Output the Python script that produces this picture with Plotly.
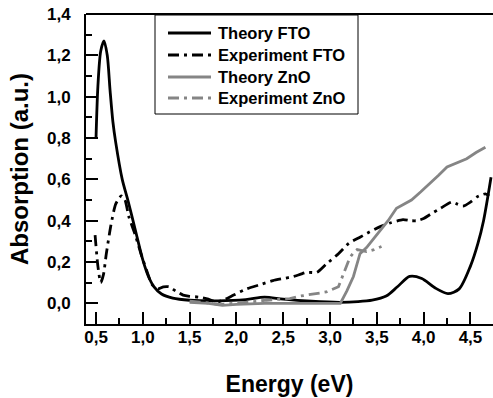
import plotly.graph_objects as go

# Theory FTO
e_th_fto = [0.50, 0.52, 0.55, 0.585, 0.62, 0.65, 0.68, 0.71, 0.78, 0.84, 0.92, 1.00, 1.06, 1.12, 1.20,
            1.32, 1.50, 1.80, 2.10, 2.30, 2.50, 2.80, 3.10, 3.30, 3.45, 3.60, 3.72, 3.85, 3.98, 4.12,
            4.26, 4.38, 4.50, 4.58, 4.64, 4.72]
a_th_fto = [0.80, 1.05, 1.22, 1.27, 1.20, 1.03, 0.88, 0.78, 0.60, 0.50, 0.355, 0.21, 0.13, 0.08, 0.045,
            0.025, 0.015, 0.012, 0.018, 0.03, 0.02, 0.01, 0.005, 0.008, 0.015, 0.035, 0.08, 0.13, 0.12, 0.075,
            0.047, 0.07, 0.18, 0.29, 0.40, 0.61]

# Experiment FTO
e_ex_fto = [0.49, 0.52, 0.55, 0.58, 0.61, 0.66, 0.71, 0.77, 0.81, 0.85, 0.92, 0.98, 1.04, 1.10, 1.16,
            1.22, 1.28, 1.35, 1.43, 1.50, 1.60, 1.70, 1.79, 1.88, 1.97, 2.11, 2.25, 2.39, 2.50, 2.61,
            2.68, 2.75, 2.86, 2.96, 3.09, 3.20, 3.32, 3.42, 3.53, 3.65, 3.78, 3.86, 3.93, 4.00, 4.07,
            4.18, 4.30, 4.36, 4.42, 4.50, 4.57, 4.66, 4.70]
a_ex_fto = [0.33, 0.18, 0.10, 0.14, 0.24, 0.38, 0.48, 0.52, 0.50, 0.42, 0.33, 0.24, 0.16, 0.09, 0.07,
            0.08, 0.08, 0.06, 0.04, 0.034, 0.03, 0.02, 0.006, 0.02, 0.04, 0.07, 0.09, 0.11, 0.12, 0.13,
            0.14, 0.15, 0.15, 0.19, 0.24, 0.29, 0.32, 0.345, 0.37, 0.39, 0.405, 0.40, 0.40, 0.41, 0.43,
            0.46, 0.49, 0.48, 0.47, 0.49, 0.515, 0.53, 0.52]

# Theory ZnO
e_th_zno = [1.50, 1.70, 1.85, 2.00, 2.30, 2.60, 2.90, 3.11, 3.18, 3.25, 3.32, 3.39, 3.46, 3.53, 3.62,
            3.71, 3.79, 3.87, 3.97, 4.07, 4.16, 4.25, 4.35, 4.46, 4.56, 4.66]
a_th_zno = [0.005, 0.0, -0.01, -0.005, 0.0, 0.0, 0.0, 0.0, 0.06, 0.13, 0.24, 0.27, 0.31, 0.35, 0.40,
            0.46, 0.48, 0.50, 0.54, 0.58, 0.62, 0.66, 0.68, 0.70, 0.73, 0.755]

# Experiment ZnO
e_ex_zno = [1.50, 1.65, 1.82, 2.02, 2.17, 2.32, 2.45, 2.57, 2.68, 2.79, 2.96, 3.09, 3.16, 3.21, 3.25,
            3.29, 3.34, 3.39, 3.47, 3.55]
a_ex_zno = [0.01, 0.005, -0.006, 0.0, 0.008, 0.015, 0.018, 0.023, 0.035, 0.044, 0.055, 0.08, 0.16, 0.22, 0.245,
            0.26, 0.255, 0.25, 0.26, 0.275]

names = ["Theory FTO", "Experiment FTO", "Theory ZnO", "Experiment ZnO"]

FONT = "Liberation Sans, Arial, sans-serif"
DASHDOT = "11px,5px,3px,5px"
GRAY = "#858585"
LW = 2.8

styles = [
    dict(color="black", width=LW, dash="solid"),
    dict(color="black", width=LW, dash=DASHDOT),
    dict(color=GRAY, width=LW, dash="solid"),
    dict(color=GRAY, width=LW, dash=DASHDOT),
]

fig = go.Figure()
fig.add_trace(go.Scatter(x=e_th_fto, y=a_th_fto, name=names[0], mode="lines", showlegend=False,
                         line=dict(styles[0], shape="spline", smoothing=0.8)))
fig.add_trace(go.Scatter(x=e_ex_fto, y=a_ex_fto, name=names[1], mode="lines", showlegend=False,
                         line=dict(styles[1], shape="spline", smoothing=0.6)))
fig.add_trace(go.Scatter(x=e_th_zno, y=a_th_zno, name=names[2], mode="lines", showlegend=False,
                         line=styles[2]))
fig.add_trace(go.Scatter(x=e_ex_zno, y=a_ex_zno, name=names[3], mode="lines", showlegend=False,
                         line=styles[3]))

# plot-area geometry (pixels) used only to place the legend box
L, T, W, H = 86, 14, 407, 310


def px(xp):
    return (xp - L) / W


def py(yp):
    return (T + H - yp) / H


fig.update_layout(
    width=493, height=398,
    margin=dict(l=L, r=493 - L - W, t=T, b=398 - T - H),
    plot_bgcolor="white", paper_bgcolor="white",
    separators=",.",
    font=dict(family=FONT, color="black", size=16, weight="bold"),
    showlegend=False,
)
fig.update_xaxes(
    range=[0.393, 4.741], showline=True, linecolor="black", linewidth=2,
    ticks="inside", ticklen=12, tickwidth=1.5, tickcolor="black",
    tick0=0.5, dtick=0.5, tickformat=".1f",
    minor=dict(ticks="inside", ticklen=6, tickwidth=1.5, tickcolor="black", dtick=0.25),
    showgrid=False, zeroline=False,
    tickfont=dict(family=FONT, size=17, weight="bold"),
    title=dict(text="Energy (eV)", font=dict(family=FONT, size=23, weight="bold"), standoff=29),
    ticklabelstandoff=-3,
)
fig.update_yaxes(
    range=[-0.1, 1.4], showline=True, linecolor="black", linewidth=2,
    ticks="inside", ticklen=12, tickwidth=1.5, tickcolor="black",
    tick0=0, dtick=0.2, tickformat=".1f",
    minor=dict(ticks="inside", ticklen=6, tickwidth=1.5, tickcolor="black", dtick=0.1),
    showgrid=False, zeroline=False,
    tickfont=dict(family=FONT, size=17, weight="bold"),
    title=dict(text="Absorption (a.u.)", font=dict(family=FONT, size=24, weight="bold"), standoff=12),
    ticklabelstandoff=10,
)
# top frame line
fig.add_shape(type="line", xref="paper", yref="paper", x0=0, x1=1, y0=1, y1=1,
              line=dict(color="black", width=2))

# legend box
fig.add_shape(type="rect", xref="paper", yref="paper", x0=px(155), x1=px(358), y0=py(114), y1=py(15),
              line=dict(color="black", width=1), fillcolor="white", layer="above")
rows = [33, 55, 77, 98]
for name, st, ry in zip(names, styles, rows):
    fig.add_shape(type="line", xref="paper", yref="paper", x0=px(168), x1=px(211), y0=py(ry), y1=py(ry),
                  line=st, layer="above")
    fig.add_annotation(text=name, xref="paper", yref="paper", x=px(216), y=py(ry),
                       xanchor="left", yanchor="middle", showarrow=False,
                       font=dict(family=FONT, size=16.5, weight="bold", color="black"))

fig.write_html("out.html")
